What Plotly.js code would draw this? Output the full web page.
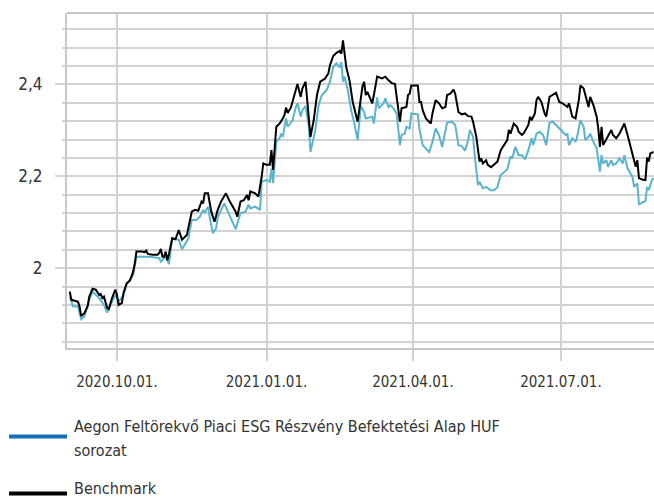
<!DOCTYPE html>
<html>
<head>
<meta charset="utf-8">
<script src="https://cdn.plot.ly/plotly-3.0.1.min.js"></script>
<style>html,body{margin:0;padding:0;background:#fff;}#chart{width:654px;height:500px;}</style>
</head>
<body>
<div id="chart"></div>
<script>
// Benchmark series
const benchDates = ["2020-09-02","2020-09-03","2020-09-05","2020-09-07","2020-09-08","2020-09-09","2020-09-11","2020-09-13","2020-09-14","2020-09-16","2020-09-18","2020-09-20","2020-09-21","2020-09-22","2020-09-23","2020-09-25","2020-09-26","2020-09-28","2020-09-30","2020-10-01","2020-10-02","2020-10-04","2020-10-05","2020-10-06","2020-10-07","2020-10-09","2020-10-11","2020-10-12","2020-10-13","2020-10-16","2020-10-18","2020-10-19","2020-10-20","2020-10-23","2020-10-26","2020-10-27","2020-10-28","2020-10-29","2020-10-30","2020-10-31","2020-11-01","2020-11-02","2020-11-04","2020-11-06","2020-11-08","2020-11-10","2020-11-13","2020-11-16","2020-11-18","2020-11-20","2020-11-22","2020-11-23","2020-11-24","2020-11-26","2020-11-27","2020-11-28","2020-11-30","2020-12-01","2020-12-02","2020-12-04","2020-12-07","2020-12-09","2020-12-11","2020-12-13","2020-12-14","2020-12-16","2020-12-18","2020-12-20","2020-12-21","2020-12-22","2020-12-25","2020-12-27","2020-12-29","2020-12-30","2021-01-01","2021-01-03","2021-01-04","2021-01-05","2021-01-07","2021-01-09","2021-01-11","2021-01-12","2021-01-13","2021-01-14","2021-01-16","2021-01-18","2021-01-20","2021-01-22","2021-01-23","2021-01-25","2021-01-26","2021-01-28","2021-01-30","2021-02-01","2021-02-03","2021-02-06","2021-02-08","2021-02-09","2021-02-11","2021-02-13","2021-02-15","2021-02-16","2021-02-17","2021-02-18","2021-02-19","2021-02-21","2021-02-23","2021-02-26","2021-02-28","2021-03-01","2021-03-02","2021-03-03","2021-03-04","2021-03-07","2021-03-08","2021-03-10","2021-03-13","2021-03-15","2021-03-17","2021-03-19","2021-03-21","2021-03-23","2021-03-24","2021-03-25","2021-03-28","2021-03-29","2021-03-30","2021-03-31","2021-04-04","2021-04-05","2021-04-06","2021-04-07","2021-04-09","2021-04-12","2021-04-13","2021-04-15","2021-04-17","2021-04-19","2021-04-21","2021-04-22","2021-04-24","2021-04-26","2021-04-27","2021-04-29","2021-05-01","2021-05-03","2021-05-05","2021-05-07","2021-05-08","2021-05-10","2021-05-11","2021-05-12","2021-05-13","2021-05-14","2021-05-16","2021-05-17","2021-05-19","2021-05-21","2021-05-23","2021-05-25","2021-05-27","2021-05-29","2021-05-30","2021-05-31","2021-06-02","2021-06-04","2021-06-05","2021-06-07","2021-06-08","2021-06-11","2021-06-12","2021-06-13","2021-06-15","2021-06-16","2021-06-17","2021-06-19","2021-06-21","2021-06-22","2021-06-24","2021-06-26","2021-06-28","2021-06-30","2021-07-02","2021-07-05","2021-07-06","2021-07-08","2021-07-10","2021-07-12","2021-07-13","2021-07-15","2021-07-16","2021-07-18","2021-07-19","2021-07-21","2021-07-23","2021-07-24","2021-07-25","2021-07-26","2021-07-27","2021-07-28","2021-07-30","2021-08-01","2021-08-02","2021-08-04","2021-08-06","2021-08-09","2021-08-11","2021-08-13","2021-08-15","2021-08-16","2021-08-17","2021-08-18","2021-08-20","2021-08-22","2021-08-23","2021-08-24","2021-08-25","2021-08-27"];
const benchValues = [1.949,1.931,1.929,1.927,1.917,1.896,1.902,1.917,1.938,1.955,1.953,1.942,1.944,1.935,1.938,1.913,1.911,1.935,1.953,1.942,1.920,1.924,1.946,1.957,1.967,1.973,1.993,2.011,2.036,2.036,2.035,2.038,2.031,2.029,2.029,2.033,2.042,2.025,2.025,2.036,2.017,2.031,2.065,2.063,2.083,2.062,2.072,2.123,2.127,2.125,2.145,2.141,2.163,2.163,2.141,2.123,2.101,2.116,2.127,2.145,2.163,2.148,2.134,2.123,2.112,2.145,2.148,2.159,2.148,2.167,2.163,2.156,2.199,2.228,2.225,2.225,2.257,2.214,2.308,2.315,2.326,2.333,2.350,2.338,2.350,2.377,2.401,2.373,2.391,2.406,2.366,2.286,2.322,2.377,2.406,2.413,2.424,2.442,2.462,2.469,2.473,2.467,2.496,2.460,2.438,2.409,2.362,2.319,2.366,2.396,2.406,2.377,2.384,2.359,2.377,2.417,2.413,2.417,2.409,2.403,2.401,2.344,2.319,2.348,2.351,2.377,2.380,2.398,2.398,2.362,2.362,2.344,2.326,2.315,2.337,2.366,2.359,2.348,2.351,2.377,2.380,2.389,2.380,2.340,2.335,2.337,2.331,2.330,2.319,2.286,2.257,2.232,2.239,2.228,2.235,2.225,2.220,2.225,2.232,2.257,2.268,2.279,2.301,2.293,2.315,2.308,2.297,2.290,2.293,2.312,2.330,2.322,2.337,2.366,2.373,2.362,2.337,2.330,2.373,2.377,2.382,2.362,2.359,2.351,2.359,2.330,2.326,2.366,2.398,2.391,2.377,2.351,2.373,2.355,2.330,2.304,2.264,2.308,2.268,2.275,2.290,2.301,2.290,2.283,2.293,2.315,2.290,2.264,2.239,2.221,2.235,2.196,2.193,2.192,2.241,2.232,2.250,2.253];

// Fund series
const fundDates = ["2020-09-02","2020-09-04","2020-09-07","2020-09-08","2020-09-09","2020-09-11","2020-09-14","2020-09-16","2020-09-20","2020-09-23","2020-09-25","2020-09-28","2020-09-30","2020-10-02","2020-10-05","2020-10-07","2020-10-11","2020-10-13","2020-10-17","2020-10-21","2020-10-27","2020-10-28","2020-10-31","2020-11-02","2020-11-04","2020-11-08","2020-11-10","2020-11-14","2020-11-16","2020-11-19","2020-11-21","2020-11-23","2020-11-24","2020-11-26","2020-11-27","2020-11-29","2020-12-01","2020-12-02","2020-12-06","2020-12-10","2020-12-13","2020-12-16","2020-12-19","2020-12-21","2020-12-22","2020-12-25","2020-12-28","2020-12-29","2021-01-01","2021-01-03","2021-01-04","2021-01-05","2021-01-07","2021-01-09","2021-01-10","2021-01-11","2021-01-13","2021-01-14","2021-01-17","2021-01-19","2021-01-20","2021-01-22","2021-01-23","2021-01-25","2021-01-27","2021-01-28","2021-01-31","2021-02-02","2021-02-04","2021-02-07","2021-02-09","2021-02-11","2021-02-13","2021-02-15","2021-02-16","2021-02-17","2021-02-18","2021-02-20","2021-02-22","2021-02-24","2021-02-26","2021-02-28","2021-03-02","2021-03-03","2021-03-05","2021-03-07","2021-03-08","2021-03-10","2021-03-11","2021-03-14","2021-03-15","2021-03-17","2021-03-18","2021-03-20","2021-03-22","2021-03-24","2021-03-25","2021-03-27","2021-03-28","2021-03-30","2021-03-31","2021-04-04","2021-04-05","2021-04-06","2021-04-07","2021-04-11","2021-04-13","2021-04-15","2021-04-17","2021-04-19","2021-04-21","2021-04-22","2021-04-25","2021-04-27","2021-04-29","2021-05-01","2021-05-03","2021-05-05","2021-05-06","2021-05-08","2021-05-09","2021-05-11","2021-05-12","2021-05-14","2021-05-16","2021-05-19","2021-05-21","2021-05-23","2021-05-25","2021-05-27","2021-05-29","2021-05-31","2021-06-01","2021-06-03","2021-06-05","2021-06-07","2021-06-09","2021-06-11","2021-06-13","2021-06-14","2021-06-16","2021-06-18","2021-06-20","2021-06-22","2021-06-24","2021-06-26","2021-06-28","2021-06-30","2021-07-02","2021-07-04","2021-07-05","2021-07-06","2021-07-08","2021-07-10","2021-07-11","2021-07-13","2021-07-15","2021-07-16","2021-07-18","2021-07-19","2021-07-21","2021-07-23","2021-07-25","2021-07-26","2021-07-27","2021-07-29","2021-07-30","2021-08-01","2021-08-02","2021-08-04","2021-08-06","2021-08-08","2021-08-09","2021-08-11","2021-08-14","2021-08-15","2021-08-17","2021-08-18","2021-08-20","2021-08-22","2021-08-23","2021-08-24","2021-08-26","2021-08-27"];
const fundValues = [1.938,1.917,1.917,1.903,1.889,1.895,1.931,1.949,1.935,1.920,1.903,1.927,1.942,1.927,1.940,1.965,1.985,2.025,2.025,2.025,2.022,2.014,2.025,2.009,2.065,2.062,2.041,2.065,2.105,2.105,2.112,2.127,2.120,2.134,2.112,2.076,2.087,2.112,2.141,2.109,2.085,2.120,2.123,2.138,2.130,2.134,2.127,2.188,2.192,2.188,2.217,2.185,2.275,2.283,2.293,2.286,2.326,2.308,2.322,2.351,2.359,2.330,2.344,2.353,2.308,2.253,2.301,2.355,2.377,2.388,2.406,2.438,2.446,2.437,2.449,2.406,2.417,2.388,2.344,2.315,2.279,2.353,2.340,2.326,2.328,2.330,2.315,2.372,2.348,2.359,2.370,2.351,2.355,2.348,2.337,2.268,2.290,2.293,2.308,2.304,2.337,2.335,2.304,2.286,2.268,2.253,2.275,2.304,2.290,2.264,2.301,2.317,2.319,2.312,2.268,2.266,2.256,2.279,2.301,2.286,2.246,2.181,2.188,2.174,2.177,2.169,2.170,2.177,2.203,2.210,2.215,2.243,2.239,2.264,2.246,2.246,2.237,2.257,2.283,2.268,2.293,2.297,2.290,2.268,2.317,2.319,2.312,2.304,2.297,2.290,2.292,2.268,2.283,2.275,2.286,2.322,2.308,2.279,2.286,2.293,2.275,2.261,2.210,2.246,2.228,2.235,2.221,2.235,2.225,2.228,2.239,2.228,2.246,2.217,2.199,2.177,2.185,2.138,2.143,2.146,2.177,2.170,2.192,2.196];

// Axis ticks
const xTickVals = ["2020-10-01","2021-01-01","2021-04-01","2021-07-01"];
const xTickText = ["2020.10.01.","2021.01.01.","2021.04.01.","2021.07.01."];
const seriesNames = ["Aegon Feltörekvő Piaci ESG Részvény Befektetési Alap HUF", "sorozat", "Benchmark"];

const FONT = "'DejaVu Sans Condensed', 'Liberation Sans Narrow', sans-serif";
const TXT = "#333333";
const GRID = "#d2d2d2";
const PH = 335.6, PW = 587, PL = 67, PB = 348.3;
const py = (y) => -(y - PB) / PH;
const px = (x) => (x - PL) / PW;

const traces = [
  {x: fundDates, y: fundValues, type: "scatter", mode: "lines",
   line: {color: "#5ab4cc", width: 2}, showlegend: false, hoverinfo: "skip"},
  {x: benchDates, y: benchValues, type: "scatter", mode: "lines",
   line: {color: "#000000", width: 2}, showlegend: false, hoverinfo: "skip"}
];

const layout = {
  width: 654, height: 500,
  margin: {l: 67, r: 0, t: 13, b: 152},
  paper_bgcolor: "#ffffff", plot_bgcolor: "#ffffff",
  separators: ", ",
  font: {family: FONT, size: 15, color: TXT},
  showlegend: false,
  xaxis: {
    type: "date",
    range: ["2020-08-31 07:00", "2021-08-27 06:00"],
    tickmode: "array", tickvals: xTickVals, ticktext: xTickText,
    showgrid: true, gridcolor: GRID, gridwidth: 2,
    ticks: "outside", ticklen: 11, tickwidth: 2, tickcolor: GRID,
    showline: true, linecolor: "#c8c8c8", linewidth: 2,
    zeroline: false, ticklabelstandoff: 8,
    tickfont: {family: FONT, size: 15, color: TXT}
  },
  yaxis: {
    range: [1.8261, 2.5557],
    tick0: 2, dtick: 0.2,
    showgrid: true, gridcolor: GRID, gridwidth: 2,
    ticks: "outside", ticklen: 10, tickwidth: 2, tickcolor: GRID,
    minor: {tick0: 2, dtick: 0.04, showgrid: true, gridcolor: GRID, gridwidth: 2,
            ticks: "outside", ticklen: 3, tickwidth: 2, tickcolor: GRID},
    showline: true, linecolor: "#c8c8c8", linewidth: 2,
    mirror: false, zeroline: false, ticklabelstandoff: 9,
    tickfont: {family: FONT, size: 17, color: TXT}
  },
  shapes: [
    {type: "line", xref: "paper", yref: "paper", x0: 0, x1: 1, y0: 1, y1: 1,
     line: {color: "#c8c8c8", width: 2}},
    {type: "line", xref: "paper", yref: "paper", x0: px(9), x1: px(67), y0: py(437), y1: py(437),
     line: {color: "#1170b8", width: 4}},
    {type: "line", xref: "paper", yref: "paper", x0: px(9), x1: px(67), y0: py(494), y1: py(494),
     line: {color: "#000000", width: 4}}
  ],
  annotations: [
    {xref: "paper", yref: "paper", x: px(72), y: py(427), xanchor: "left", yanchor: "middle",
     text: seriesNames[0], showarrow: false, font: {family: FONT, size: 16, color: TXT}},
    {xref: "paper", yref: "paper", x: px(72), y: py(451), xanchor: "left", yanchor: "middle",
     text: seriesNames[1], showarrow: false, font: {family: FONT, size: 16, color: TXT}},
    {xref: "paper", yref: "paper", x: px(72), y: py(489), xanchor: "left", yanchor: "middle",
     text: seriesNames[2], showarrow: false, font: {family: FONT, size: 16, color: TXT}}
  ]
};

Plotly.newPlot("chart", traces, layout, {staticPlot: true, displayModeBar: false});
</script>
</body>
</html>
